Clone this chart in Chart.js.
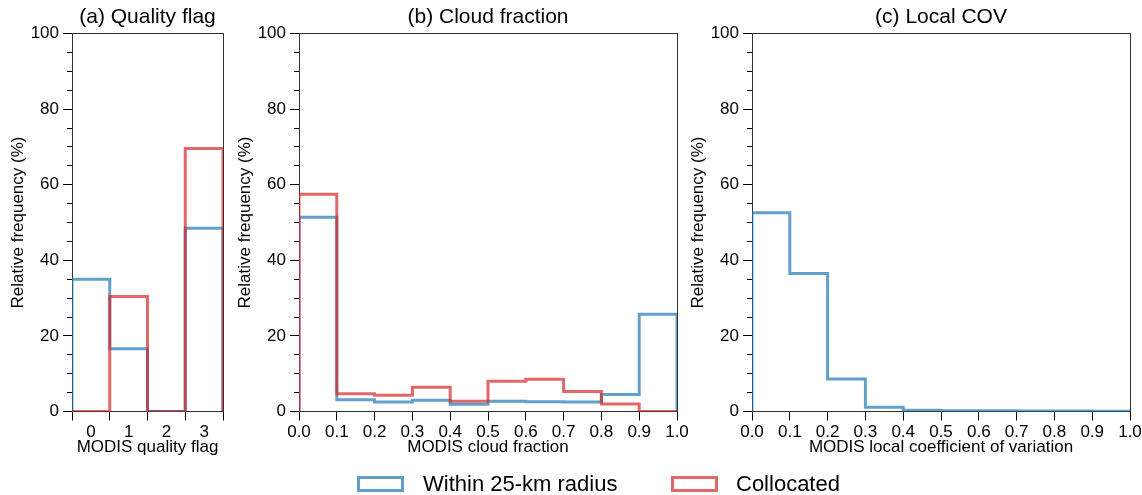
<!DOCTYPE html>
<html>
<head>
<meta charset="utf-8">
<script src="https://cdn.jsdelivr.net/npm/chart.js@4.4.1/dist/chart.umd.min.js"></script>
<style>
  html, body { margin: 0; padding: 0; background: #fff; }
  #wrap { position: relative; width: 1142px; height: 495px; overflow: hidden; font-family: 'Liberation Sans', Arial, sans-serif; }
  canvas { position: absolute; top: 0; }
  .key { position: absolute; top: 476px; width: 47px; height: 16px; box-sizing: border-box; border: 3px solid; }
  .keytext { position: absolute; top: 470px; font-size: 22px; line-height: 28px; color: #000; white-space: nowrap; }
</style>
</head>
<body>
<div id="wrap">
  <canvas id="chart-a" width="240" height="470" style="left:0px"></canvas>
  <canvas id="chart-b" width="474" height="470" style="left:227px"></canvas>
  <canvas id="chart-c" width="462" height="470" style="left:680px"></canvas>
  <div class="key" style="left:357px; border-color: rgba(31,119,180,0.7)"></div>
  <div class="keytext" style="left:423px">Within 25-km radius</div>
  <div class="key" style="left:671px; border-color: rgba(214,39,40,0.7)"></div>
  <div class="keytext" style="left:736px">Collocated</div>
</div>
<script>
// (a) quality flag histogram
const qfEdges = [-0.5, 0.5, 1.5, 2.5, 3.5];
const qfLabels = [0, 1, 2, 3];
const qfWithin = [35.0, 16.6, 0, 48.5];
const qfColloc = [0, 30.4, 0, 69.6];

// (b) cloud fraction histogram
const cfEdges = [0, 0.1, 0.2, 0.3, 0.4, 0.5, 0.6, 0.7, 0.8, 0.9, 1.0];
const cfWithin = [51.4, 3.1, 2.5, 3.0, 1.9, 2.7, 2.6, 2.5, 4.5, 25.7];
const cfColloc = [57.5, 4.7, 4.3, 6.4, 2.7, 8.0, 8.5, 5.3, 2.0, 0];

// (c) local COV histogram
const covEdges = [0, 0.1, 0.2, 0.3, 0.4, 0.5, 0.6, 0.7, 0.8, 0.9, 1.0];
const covWithin = [52.6, 36.5, 8.6, 1.15, 0.35, 0.2, 0.2, 0.15, 0.1, 0.05];

const yTicks = [0, 20, 40, 60, 80, 100];

const FONT = 'Liberation Sans, Arial, sans-serif';
const BLUE = 'rgba(31,119,180,0.7)';
const RED = 'rgba(214,39,40,0.7)';
const SPINE = '#333';

// outline of a step histogram, closed down to zero at both ends
function stepPoints(edges, vals) {
    const pts = [{ x: edges[0], y: 0 }];
    vals.forEach((v, i) => pts.push({ x: edges[i], y: v }));
    pts.push({ x: edges[edges.length - 1], y: vals[vals.length - 1] });
    pts.push({ x: edges[edges.length - 1], y: 0 });
    return pts;
}

function histSet(edges, vals, color, order) {
    return {
        data: stepPoints(edges, vals),
        borderColor: color,
        borderWidth: 3,
        pointRadius: 0,
        stepped: 'before',
        fill: false,
        order: order,
        xAxisID: 'x',
        yAxisID: 'y'
    };
}

function makeChart(id, datasets, cfg) {
    const ctx = document.getElementById(id).getContext('2d');
    return new Chart(ctx, {
        type: 'line',
        data: { datasets: datasets },
        options: {
            responsive: false,
            animation: false,
            layout: { padding: { left: 0, right: cfg.padRight, top: 0, bottom: 0 } },
            plugins: {
                legend: { display: false },
                tooltip: { enabled: false },
                title: {
                    display: true,
                    text: cfg.title,
                    fullSize: false,
                    color: '#000',
                    font: { family: FONT, size: 21, weight: 'normal' },
                    padding: { top: 4.5, bottom: 3.8 }
                }
            },
            scales: {
                x: {
                    type: 'linear',
                    position: 'bottom',
                    min: cfg.xMin,
                    max: cfg.xMax,
                    afterBuildTicks: s => { s.ticks = cfg.xTicks.map(v => ({ value: v })); },
                    afterFit: s => {
                        s.height = 58.5;
                        // keep the end labels from shrinking the plot
                        s.paddingLeft = 0;
                        s.paddingRight = 0;
                    },
                    ticks: {
                        autoSkip: false,
                        maxRotation: 0,
                        padding: 2,
                        color: '#000',
                        font: { family: FONT, size: 17 },
                        callback: cfg.xLabel
                    },
                    grid: { drawOnChartArea: false, tickLength: 9, tickColor: cfg.xTickColor || '#000' },
                    border: { color: SPINE, width: 1 },
                    title: {
                        display: true,
                        text: cfg.xTitle,
                        color: '#000',
                        font: { family: FONT, size: 17 },
                        padding: { top: 0, bottom: 12 }
                    }
                },
                y: {
                    position: 'left',
                    weight: 1,
                    min: 0,
                    max: 100,
                    afterBuildTicks: s => { s.ticks = yTicks.map(v => ({ value: v })); },
                    afterFit: s => { s.width = 72; },
                    ticks: { padding: 4, color: '#000', font: { family: FONT, size: 17 } },
                    grid: { drawOnChartArea: false, tickLength: 9, tickColor: '#000' },
                    border: { color: SPINE, width: 1 },
                    title: {
                        display: true,
                        text: 'Relative frequency (%)',
                        color: '#000',
                        font: { family: FONT, size: 17 },
                        padding: { top: 8, bottom: 0 }
                    }
                },
                // minor ticks every 5 %
                ym: {
                    position: 'left',
                    weight: 0,
                    min: 0,
                    max: 100,
                    afterFit: s => { s.width = 0; },
                    ticks: { display: false, stepSize: 5 },
                    grid: { drawOnChartArea: false, tickLength: 5, tickColor: '#000' },
                    border: { display: false }
                },
                // right and top frame lines
                yr: {
                    position: 'right',
                    min: 0,
                    max: 100,
                    afterFit: s => { s.width = 0; },
                    ticks: { display: false },
                    grid: { drawOnChartArea: false, drawTicks: false },
                    border: { color: SPINE, width: 1 }
                },
                xt: {
                    type: 'linear',
                    position: 'top',
                    min: cfg.xMin,
                    max: cfg.xMax,
                    afterFit: s => {
                        s.height = 0;
                        s.paddingLeft = 0;
                        s.paddingRight = 0;
                    },
                    ticks: { display: false },
                    grid: { drawOnChartArea: false, drawTicks: false },
                    border: { color: SPINE, width: 1 }
                }
            }
        }
    });
}

const tenths = v => v.toFixed(1);

makeChart('chart-a', [
    histSet(qfEdges, qfWithin, BLUE, 2),
    histSet(qfEdges, qfColloc, RED, 1)
], {
    title: '(a) Quality flag',
    xTitle: 'MODIS quality flag',
    xMin: qfEdges[0],
    xMax: qfEdges[qfEdges.length - 1],
    xTicks: qfEdges.concat(qfLabels),
    xLabel: v => qfLabels.includes(v) ? String(v) : '',
    xTickColor: c => (c.tick && qfLabels.includes(c.tick.value)) ? 'rgba(0,0,0,0)' : '#000',
    padRight: 17
});

makeChart('chart-b', [
    histSet(cfEdges, cfWithin, BLUE, 2),
    histSet(cfEdges, cfColloc, RED, 1)
], {
    title: '(b) Cloud fraction',
    xTitle: 'MODIS cloud fraction',
    xMin: 0,
    xMax: 1,
    xTicks: cfEdges,
    xLabel: tenths,
    padRight: 24
});

makeChart('chart-c', [
    histSet(covEdges, covWithin, BLUE, 2)
], {
    title: '(c) Local COV',
    xTitle: 'MODIS local coefficient of variation',
    xMin: 0,
    xMax: 1,
    xTicks: covEdges,
    xLabel: tenths,
    padRight: 12
});
</script>
</body>
</html>
